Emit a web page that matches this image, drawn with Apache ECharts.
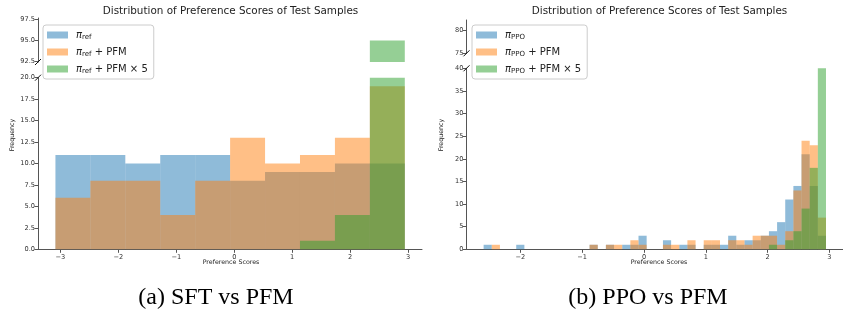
<!DOCTYPE html>
<html><head><meta charset="utf-8">
<script src="https://cdn.jsdelivr.net/npm/echarts@6/dist/echarts.min.js"></script>
<style>html,body{margin:0;padding:0;background:#fff}#c{width:843px;height:312px}</style>
</head><body><div id="c"></div>
<script>
// ---------- Panel (a): SFT vs PFM (10 shared bins) ----------
const binEdgesA = [-3.086, -2.483, -1.880, -1.277, -0.674, -0.071, 0.532, 1.135, 1.738, 2.341, 2.944];
const refA   = [11, 11, 10, 11, 11, 8, 9, 9, 10, 10];
const pfmA   = [6, 8, 8, 4, 8, 13, 10, 11, 13, 19];
const pfm5A  = [0, 0, 0, 0, 0, 0, 0, 1, 4, 95];
const xTicksA = [-3, -2, -1, 0, 1, 2, 3];
const yTicksALow = [0, 2.5, 5, 7.5, 10, 12.5, 15, 17.5, 20];
const yTicksAHigh = [92.5, 95, 97.5];

// ---------- Panel (b): PPO vs PFM (42 shared bins) ----------
const binStartB = -2.595;
const binWidthB = 0.1319;
const refB  = [1,0,0,0,1,0,0,0,0,0, 0,0,0,1,0,1,0,1,1,3, 0,0,2,0,1,1,0,1,1,1, 3,1,2,2,3,4,6,11,14,21, 14,3];
const pfmB  = [0,1,0,0,0,0,0,0,0,0, 0,0,0,1,0,1,1,0,2,1, 0,0,1,1,0,2,0,2,2,0, 2,2,1,3,3,3,1,4,13,24, 23,7];
const pfm5B = [0,0,0,0,0,0,0,0,0,0, 0,0,0,0,0,0,0,0,0,0, 0,0,0,0,0,0,0,0,0,0, 0,0,0,0,0,1,0,2,4,9, 18,66];
const xTicksB = [-2, -1, 0, 1, 2, 3];
const yTicksBLow = [0, 5, 10, 15, 20, 25, 30, 35, 40];
const yTicksBHigh = [75, 80];

const COLORS = ['rgba(31,119,180,0.5)', 'rgba(255,127,14,0.5)', 'rgba(44,160,44,0.5)'];
const FONT = 'DejaVu Sans';

function histData(edges, counts) {
  const out = [];
  counts.forEach((c, i) => { if (c > 0) out.push([edges[i], edges[i + 1], c]); });
  return out;
}
const edgesB = refB.map((_, i) => binStartB + i * binWidthB).concat([binStartB + refB.length * binWidthB]);

function renderBar(params, api) {
  const p0 = api.coord([api.value(0), 0]);
  const p1 = api.coord([api.value(1), api.value(2)]);
  const cs = params.coordSys;
  let x0 = Math.max(p0[0], cs.x), x1 = Math.min(p1[0], cs.x + cs.width);
  let yTop = Math.max(p1[1], cs.y), yBot = Math.min(p0[1], cs.y + cs.height);
  if (x1 <= x0 || yBot <= yTop) return null;
  return { type: 'rect', shape: { x: x0, y: yTop, width: x1 - x0, height: yBot - yTop },
           style: { fill: api.visual('color') } };
}

const fmt1 = v => (v < 0 ? '\u2212' : '') + Math.abs(v).toFixed(1);
const fmtInt = v => (v < 0 ? '\u2212' : '') + Math.abs(v).toString();

const axisLineStyle = { color: '#555', width: 1 };
const tickLabel = { fontFamily: FONT, fontSize: 6.6, color: '#333' };

function yAxis(grid, min, max, ticks, fmt) {
  return {
    type: 'value', gridIndex: grid, min: min, max: max,
    axisLine: { show: true, onZero: false, lineStyle: axisLineStyle },
    axisTick: { show: true, length: 3.5, lineStyle: axisLineStyle, customValues: ticks },
    axisLabel: Object.assign({ margin: 3, formatter: fmt, customValues: ticks }, tickLabel),
    splitLine: { show: false }
  };
}
function xAxis(grid, min, max, ticks, show) {
  return {
    type: 'value', gridIndex: grid, min: min, max: max, show: show,
    axisLine: { show: show, onZero: false, lineStyle: axisLineStyle },
    axisTick: { show: show, length: 3.5, lineStyle: axisLineStyle, customValues: ticks },
    axisLabel: Object.assign({ show: show, margin: 4, formatter: fmtInt, customValues: ticks }, tickLabel),
    splitLine: { show: false }
  };
}

const namesA = ['refA', 'pfmA', 'pfm5A'];
const namesB = ['refB', 'pfmB', 'pfm5B'];
const legendText = {
  refA: '{sp|}{pi|\u03c0}{sub|ref}',
  pfmA: '{sp|}{pi|\u03c0}{sub|ref}{t| + PFM}',
  pfm5A: '{sp|}{pi|\u03c0}{sub|ref}{t| + PFM \u00d7 5}',
  refB: '{sp|}{pi|\u03c0}{sub|PPO}',
  pfmB: '{sp|}{pi|\u03c0}{sub|PPO}{t| + PFM}',
  pfm5B: '{sp|}{pi|\u03c0}{sub|PPO}{t| + PFM \u00d7 5}'
};
const legendRich = {
  sp: { width: 3 },
  pi: { fontFamily: FONT, fontSize: 10, fontStyle: 'italic', color: '#222' },
  sub: { fontFamily: FONT, fontSize: 7, color: '#222', padding: [5, 0, 0, 0] },
  t: { fontFamily: FONT, fontSize: 10, color: '#222' }
};
function legend(left, names) {
  return {
    left: left, top: 25, orient: 'vertical', data: names,
    icon: 'rect', itemWidth: 21, itemHeight: 7, itemGap: 3,
    padding: [3, 6, 3, 4], backgroundColor: 'rgba(255,255,255,0.8)',
    borderColor: '#ccc', borderWidth: 1, borderRadius: 3,
    selectedMode: false,
    formatter: n => legendText[n],
    textStyle: { rich: legendRich, lineHeight: 14, height: 14 }
  };
}

const datasetsA = [refA, pfmA, pfm5A].map(c => histData(binEdgesA, c));
const datasetsB = [refB, pfmB, pfm5B].map(c => histData(edgesB, c));

const series = [];
[[datasetsA, namesA, [0, 1]], [datasetsB, namesB, [2, 3]]].forEach(([ds, names, grids]) => {
  grids.forEach(g => {
    ds.forEach((d, k) => {
      series.push({
        type: 'custom', name: names[k], xAxisIndex: g, yAxisIndex: g,
        color: COLORS[k], renderItem: renderBar, data: d,
        encode: { x: [0, 1], y: 2 }, silent: true, animation: false
      });
    });
  });
});

function breakMark(cx, cy) {
  return { type: 'line', shape: { x1: cx - 3, y1: cy + 3, x2: cx + 3, y2: cy - 3 },
           style: { stroke: '#111', lineWidth: 1 }, z: 100 };
}
function txt(x, y, text, size, extra) {
  return Object.assign({ type: 'text', x: x, y: y, z: 100,
    style: { text: text, fontSize: size, fontFamily: FONT, fill: '#222',
             textAlign: 'center', textVerticalAlign: 'middle', align: 'center', verticalAlign: 'middle' } }, extra || {});
}
function caption(x, text) {
  return { type: 'text', x: x, y: 298, z: 100, style: { text: text, fontSize: 24, fontFamily: 'Liberation Serif', fill: '#000', textAlign: 'center', textVerticalAlign: 'middle', align: 'center', verticalAlign: 'middle' } };
}

const option = {
  animation: false,
  backgroundColor: '#fff',
  grid: [
    { left: 38, top: 18, width: 384, height: 44 },
    { left: 38, top: 77.7, width: 384, height: 171.6 },
    { left: 466.5, top: 20, width: 385, height: 33.3 },
    { left: 466.5, top: 68.3, width: 385, height: 181 }
  ],
  xAxis: [
    xAxis(0, -3.387, 3.241, xTicksA, false),
    xAxis(1, -3.387, 3.241, xTicksA, true),
    xAxis(2, -2.872, 3.220, xTicksB, false),
    xAxis(3, -2.872, 3.220, xTicksB, true)
  ],
  yAxis: [
    yAxis(0, 92.45, 97.65, yTicksAHigh, fmt1),
    yAxis(1, 0, 20, yTicksALow, fmt1),
    yAxis(2, 75, 82.36, yTicksBHigh, fmtInt),
    yAxis(3, 0, 40, yTicksBLow, fmtInt)
  ],
  legend: [legend(43, namesA), legend(472, namesB)],
  series: series,
  graphic: [
    breakMark(38, 62), breakMark(38, 77.7), breakMark(466.5, 53.3), breakMark(466.5, 68.3),
    txt(230.5, 11, 'Distribution of Preference Scores of Test Samples', 10.4),
    txt(659.5, 11, 'Distribution of Preference Scores of Test Samples', 10.4),
    txt(231, 262.7, 'Preference Scores', 6.3),
    txt(659, 262.7, 'Preference Scores', 6.3),
    txt(12.7, 135, 'Frequency', 6.3, { rotation: Math.PI / 2 }),
    txt(441.7, 135, 'Frequency', 6.3, { rotation: Math.PI / 2 }),
    caption(216, '(a) SFT vs PFM'),
    caption(648, '(b) PPO vs PFM')
  ]
};

const chart = echarts.init(document.getElementById('c'), null, { renderer: 'canvas' });
chart.setOption(option);
</script>
</body></html>
